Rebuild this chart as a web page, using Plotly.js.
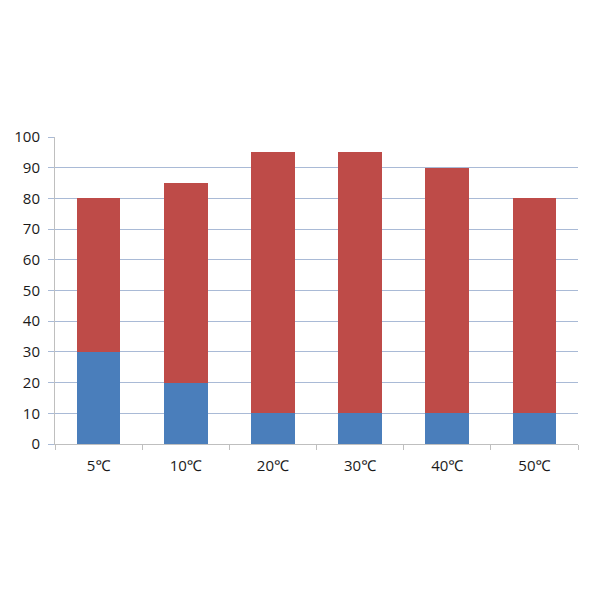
<!DOCTYPE html>
<html><head><meta charset="utf-8">
<script src="https://cdn.plot.ly/plotly-3.0.1.min.js"></script>
<style>html,body{margin:0;padding:0;background:#fff}</style>
</head><body>
<div id="chart" style="width:600px;height:600px"></div>
<script>
const categories = ["5℃","10℃","20℃","30℃","40℃","50℃"];
const blueValues = [30,20,10,10,10,10];
const redValues = [50,65,85,85,80,70];

const traces = [
  {type:"bar", x:categories, y:blueValues, marker:{color:"#4A7EBB"}, name:"A", hoverinfo:"none"},
  {type:"bar", x:categories, y:redValues, marker:{color:"#BE4B48"}, name:"B", hoverinfo:"none"}
];
const layout = {
  barmode:"stack",
  bargap:0.5,
  showlegend:false,
  width:600, height:600,
  margin:{l:55, r:22, t:137, b:156},
  paper_bgcolor:"#fff", plot_bgcolor:"#fff",
  font:{family:"Open Sans, Noto Sans, sans-serif", size:15, color:"#1a1a1a"},
  xaxis:{
    type:"category",
    showline:true, linecolor:"#BFBFBF", linewidth:1,
    ticks:"outside", tickson:"boundaries", ticklen:5, tickcolor:"#BFBFBF",
    ticklabelstandoff:8,
    showgrid:false, fixedrange:true,
    tickfont:{size:15}
  },
  yaxis:{
    range:[0,100], dtick:10,
    showline:true, linecolor:"#BFBFBF", linewidth:1,
    showgrid:true, gridcolor:"#A9BAD6", gridwidth:1,
    ticks:"outside", ticklen:6, tickcolor:"#A9BAD6",
    ticklabelstandoff:5,
    zeroline:false, fixedrange:true,
    tickfont:{size:15}
  }
};
Plotly.newPlot("chart", traces, layout, {staticPlot:true});
</script>
</body></html>
